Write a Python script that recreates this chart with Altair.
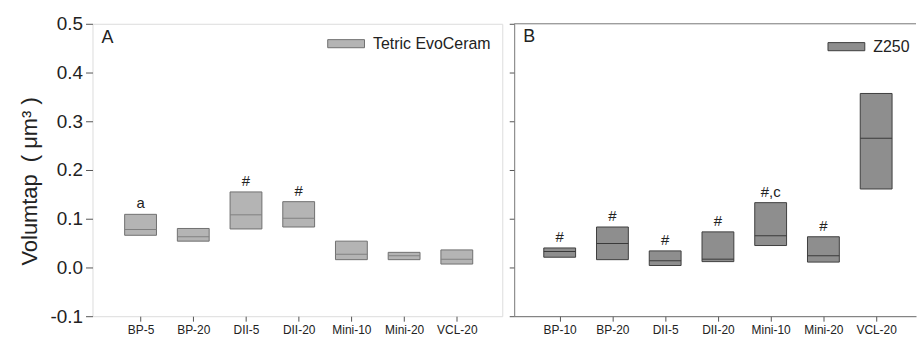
import altair as alt
import pandas as pd

FONT = "Liberation Sans"

# ---- Panel A: Tetric EvoCeram ----
cats_a = ["BP-5", "BP-20", "DII-5", "DII-20", "Mini-10", "Mini-20", "VCL-20"]
q1_a = [0.066, 0.054, 0.079, 0.083, 0.016, 0.016, 0.007]
med_a = [0.078, 0.063, 0.108, 0.101, 0.027, 0.024, 0.017]
q3_a = [0.109, 0.080, 0.155, 0.135, 0.054, 0.031, 0.036]
labels_a = ["a", "", "#", "#", "", "", ""]

# ---- Panel B: Z250 ----
cats_b = ["BP-10", "BP-20", "DII-5", "DII-20", "Mini-10", "Mini-20", "VCL-20"]
q1_b = [0.021, 0.016, 0.004, 0.012, 0.045, 0.011, 0.161]
med_b = [0.033, 0.049, 0.014, 0.017, 0.065, 0.024, 0.265]
q3_b = [0.040, 0.083, 0.034, 0.073, 0.133, 0.063, 0.357]
labels_b = ["#", "#", "#", "#", "#,c", "#", ""]

y_ticks = [-0.1, 0.0, 0.1, 0.2, 0.3, 0.4, 0.5]
H = 294


def panel(cats, q1, med, q3, labels, material, letter, fill, stroke, med_color,
          width, pad, align, legend_x, legend_y, first):
    df = pd.DataFrame({"cat": cats, "q1": q1, "med": med, "q3": q3,
                       "lab": labels, "material": material})
    xscale = alt.Scale(type="point", domain=cats, padding=pad, align=align)
    yscale = alt.Scale(domain=[-0.1, 0.5], nice=False, zero=False)
    xaxis = alt.Axis(title=None, labelAngle=0, labelFontSize=12, labelFont=FONT,
                     labelColor="#222", tickSize=5, tickColor="#555", labelPadding=3,
                     domain=not first, domainColor="#666")
    if first:
        yaxis = alt.Axis(values=y_ticks, grid=False, domain=False, tickSize=7,
                         tickColor="#555", labelFontSize=19, labelFont=FONT,
                         labelColor="#222", labelPadding=3,
                         labelExpr="datum.value < 0 ? '-' + format(-datum.value, '.1f') : format(datum.value, '.1f')",
                         title="Volumtap\u00a0\u00a0(\u00a0μm³\u00a0)", titleFont=FONT, titleFontSize=22,
                         titleFontWeight="normal", titleColor="#222", titlePadding=9,
                         titleY=158)
    else:
        yaxis = alt.Axis(values=y_ticks, grid=False, domain=True, domainColor="#777",
                         tickSize=5, tickColor="#555", labels=False, title=None)

    base = alt.Chart(df)
    bars = base.mark_bar(size=32, stroke=stroke, strokeWidth=1).encode(
        x=alt.X("cat:N", scale=xscale, sort=cats, axis=xaxis),
        y=alt.Y("q3:Q", scale=yscale, axis=yaxis),
        y2="q1:Q",
        color=alt.Color("material:N",
                        scale=alt.Scale(domain=[material], range=[fill]),
                        legend=alt.Legend(title=None, orient="none",
                                          legendX=legend_x, legendY=legend_y,
                                          symbolType="M-1,-0.22H1V0.22H-1Z",
                                          symbolSize=1369, symbolStrokeColor=stroke,
                                          symbolStrokeWidth=1, labelFontSize=16,
                                          labelFont=FONT, labelColor="#222",
                                          labelOffset=8, padding=0)),
    )
    meds = base.mark_tick(size=32, thickness=1, color=med_color, opacity=1).encode(
        x=alt.X("cat:N", scale=xscale, sort=cats),
        y=alt.Y("med:Q", scale=yscale),
    )
    texts = base.mark_text(dy=-11, fontSize=15, font=FONT, color="#222",
                           baseline="middle").encode(
        x=alt.X("cat:N", scale=xscale, sort=cats),
        y=alt.Y("q3:Q", scale=yscale),
        text="lab:N",
    )
    let = alt.Chart(alt.Data(values=[{"t": letter}])).mark_text(
        fontSize=18, font=FONT, color="#222", align="center", baseline="middle"
    ).encode(x=alt.value(15), y=alt.value(14 if first else 13), text="t:N")
    layers = [bars, meds, texts, let]
    if not first:
        top = alt.Chart(alt.Data(values=[{"t": 0}])).mark_rule(
            color="#777", strokeWidth=1
        ).encode(x=alt.value(0), x2=alt.value(width), y=alt.value(0))
        layers.append(top)
    ch = alt.layer(*layers).properties(width=width, height=H)
    if not first:
        ch = ch.properties(view=alt.ViewBackground(stroke="transparent"))
    return ch


pa = panel(cats_a, q1_a, med_a, q3_a, labels_a, "Tetric EvoCeram", "A",
           "#b4b4b4", "#707070", "#808080", 412, 0.887, 0.514, 236, 1, True)
pb = panel(cats_b, q1_b, med_b, q3_b, labels_b, "Z250", "B",
           "#8e8e8e", "#3e3e3e", "#3a3a3a", 404, 0.809, 0.533, 315, 4, False)

chart = alt.hconcat(pa, pb, spacing=5).resolve_scale(color="independent").properties(
    padding={"left": 17, "top": 13, "right": 0, "bottom": 0}
).configure_view(stroke="#555", strokeWidth=1).configure(background="white")

chart.save("out.html", embed_options={"renderer": "svg", "actions": False})
